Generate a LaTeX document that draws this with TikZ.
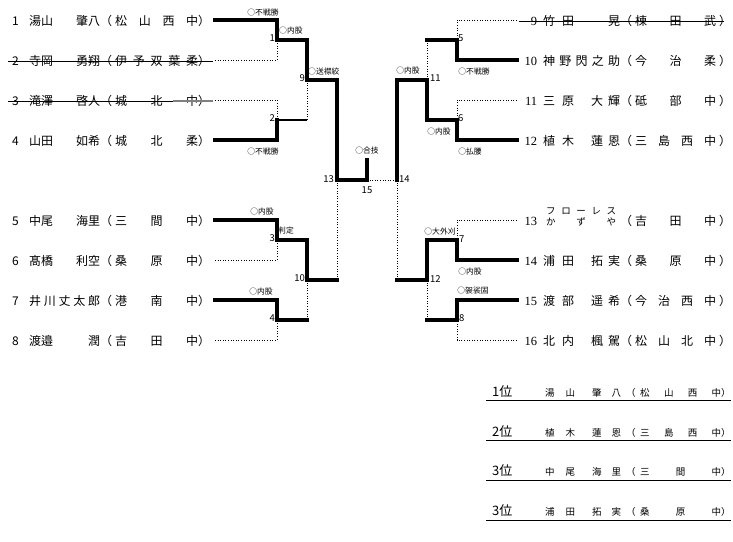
\documentclass[tikz,border=0pt]{standalone}
\usepackage{fontspec}
\setmainfont{Noto Sans CJK JP}
\newfontfamily\serifnum{Liberation Serif}
\newcommand{\psz}{\fontsize{12}{12}\selectfont}
\newcommand{\tsz}{\fontsize{7.8}{8}\selectfont}
\newcommand{\msz}{\fontsize{9.5}{10}\selectfont}
\newcommand{\rsz}{\fontsize{9.5}{10}\selectfont}
\newcommand{\Lrow}[3]{\makebox[17pt][l]{#1}\makebox[71pt][s]{#2}\makebox[15pt][l]{（}\makebox[83pt][s]{#3}\makebox[12pt][l]{）}}
\newcommand{\Rrow}[3]{\makebox[17pt][r]{\serifnum\fontsize{12.5}{12}\selectfont #1}\hspace{6pt}\makebox[77pt][s]{#2}\makebox[15pt][l]{（}\makebox[81pt][s]{#3}\hspace{3pt}\makebox[8pt][l]{）}}
\newcommand{\Res}[3]{\makebox[53pt][l]{\fontsize{13}{13}\selectfont #1}\makebox[76pt][s]{#2}\hspace{5pt}\makebox[14pt][l]{（}\makebox[81pt][s]{#3}\makebox[9pt][l]{）}}
\tikzset{
  win/.style={line width=3.6pt, line join=miter, line cap=rect},
  lose/.style={line width=0.8pt, dash pattern=on 1pt off 1.6pt},
  mid/.style={line width=1.8pt},
  strike/.style={line width=0.9pt},
  row/.style={anchor=west, inner sep=0pt, font=\psz},
  tech/.style={inner sep=0pt, font=\tsz},
  mnum/.style={inner sep=0pt, font=\msz},
  kana/.style={anchor=west, inner sep=0pt, font=\fontsize{9.5}{10}\selectfont},
  resrow/.style={anchor=west, inner sep=0pt, font=\rsz},
  uline/.style={line width=1pt}
}
\begin{document}
\begin{tikzpicture}[x=1pt,y=-1pt]
\useasboundingbox (0,0) rectangle (733,541);
% ---------- player rows (left)
\node[row] (t1) at (12,21) {\Lrow{1}{湯山\hfill 肇八}{松\hfill 山\hfill 西\hfill 中}};
\node[row] (t2) at (12,61) {\Lrow{2}{寺岡\hfill 勇翔}{伊\hfill 予\hfill 双\hfill 葉\hfill 柔}};
\node[row] (t3) at (12,101) {\Lrow{3}{滝澤\hfill 啓人}{城\hfill 北\hfill 中}};
\node[row] (t4) at (12,141) {\Lrow{4}{山田\hfill 如希}{城\hfill 北\hfill 柔}};
\node[row] (t5) at (12,221) {\Lrow{5}{中尾\hfill 海里}{三\hfill 間\hfill 中}};
\node[row] (t6) at (12,261) {\Lrow{6}{髙橋\hfill 利空}{桑\hfill 原\hfill 中}};
\node[row] (t7) at (12,301) {\Lrow{7}{井\hfill 川\hfill 丈\hfill 太\hfill 郎}{港\hfill 南\hfill 中}};
\node[row] (t8) at (12,341) {\Lrow{8}{渡邉\hfill 潤}{吉\hfill 田\hfill 中}};
% ---------- player rows (right)
\node[row] (t9) at (520,21) {\Rrow{9}{竹\hspace{7pt}田\hfill 晃}{棟\hfill 田\hfill 武}};
\node[row] (t10) at (520,61) {\Rrow{10}{神\hfill 野\hfill 閃\hfill 之\hfill 助}{今\hfill 治\hfill 柔}};
\node[row] (t11) at (520,101) {\Rrow{11}{三\hspace{7pt}原\hfill 大\hspace{5pt}輝}{砥\hfill 部\hfill 中}};
\node[row] (t12) at (520,141) {\Rrow{12}{植\hspace{7pt}木\hfill 蓮\hspace{5pt}恩}{三\hfill 島\hfill 西\hfill 中}};
\node[row] (t13) at (520,221) {\Rrow{13}{\hfill}{吉\hfill 田\hfill 中}};
\node[kana] (k13a) at (546,211) {\makebox[70pt][s]{フ\hfill ロ\hfill ー\hfill レ\hfill ス}};
\node[kana] (k13b) at (546,222) {\makebox[70pt][s]{か\hfill\phantom{ロ}\hfill ず\hfill\phantom{レ}\hfill や}};
\node[row] (t14) at (520,261) {\Rrow{14}{浦\hspace{7pt}田\hfill 拓\hspace{5pt}実}{桑\hfill 原\hfill 中}};
\node[row] (t15) at (520,301) {\Rrow{15}{渡\hspace{7pt}部\hfill 遥\hspace{5pt}希}{今\hfill 治\hfill 西\hfill 中}};
\node[row] (t16) at (520,341) {\Rrow{16}{北\hspace{7pt}内\hfill 楓\hspace{5pt}駕}{松\hfill 山\hfill 北\hfill 中}};
% ---------- strike-throughs
\draw[strike] ([xshift=-4pt]t2.west) -- ([xshift=3pt]t2.east);
\draw[strike] ([xshift=-4pt]t3.west) -- ([xshift=3pt]t3.east);
\draw[strike, gray, line width=1.6pt] ([xshift=-37pt]t3.east) -- ([xshift=3pt]t3.east);
\draw[strike] ([xshift=-1pt]t9.west) -- ([xshift=-3pt]t9.east);
% ---------- bracket coordinates
\coordinate (L1) at (215,20);  \coordinate (L2) at (215,60);
\coordinate (L3) at (215,100); \coordinate (L4) at (215,140);
\coordinate (L5) at (215,220); \coordinate (L6) at (215,260);
\coordinate (L7) at (215,300); \coordinate (L8) at (215,340);
\coordinate (M1) at (277,40);  \coordinate (M2) at (277,120);
\coordinate (M3) at (277,240); \coordinate (M4) at (277,320);
\coordinate (M9) at (307,80);  \coordinate (M10) at (307,280);
\coordinate (M13) at (337,180);
\coordinate (F) at (367,180);  \coordinate (W) at (367,160);
\coordinate (R9) at (517,20);   \coordinate (R10) at (517,60);
\coordinate (R11) at (517,100); \coordinate (R12) at (517,140);
\coordinate (R13) at (517,220); \coordinate (R14) at (517,260);
\coordinate (R15) at (517,300); \coordinate (R16) at (517,340);
\coordinate (N5) at (457,40);  \coordinate (N6) at (457,120);
\coordinate (N7) at (457,240); \coordinate (N8) at (457,320);
\coordinate (N11) at (427,80); \coordinate (N12) at (427,280);
\coordinate (M14) at (397,180);
% ---------- left bracket
\draw[win] (L1) -| (M1) -| (M9) -| (M13) -| (W);
\draw[lose] (L2) -| (M1);
\draw[win] (L4) -| (M2);
\draw[lose] (L3) -| (M2);
\draw[mid] (M2) -- (M2 -| M9);
\draw[lose] (M2 -| M9) -- (M9);
\draw[win] (L5) -| (M3) -| (M10) -- (M10 -| M13);
\draw[lose] (L6) -| (M3);
\draw[win] (L7) -| (M4) -- (M4 -| M10);
\draw[lose] (L8) -| (M4);
\draw[lose] (M4 -| M10) -- (M10);
\draw[lose] (M10 -| M13) -- (M13);
\draw[lose] (F) -- (M14);
% ---------- right bracket
\draw[win] (R10) -| (N5) -- (N5 -| N11);
\draw[lose] (R9) -| (N5);
\draw[lose] (N5 -| N11) -- (N11);
\draw[win] (R12) -| (N6) -| (N11) -| (M14);
\draw[lose] (R11) -| (N6);
\draw[win] (R14) -| (N7) -| (N12) -- (N12 -| M14);
\draw[lose] (R13) -| (N7);
\draw[win] (R15) -| (N8) -- (N8 -| N12);
\draw[lose] (R16) -| (N8);
\draw[lose] (N8 -| N12) -- (N12);
\draw[lose] (M14) -- (N12 -| M14);
% ---------- match numbers
\node[mnum, anchor=east] (n1) at (275,38) {1};
\node[mnum, anchor=east] (n2) at (275,118) {2};
\node[mnum, anchor=east] (n3) at (275,238) {3};
\node[mnum, anchor=east] (n4) at (275,318) {4};
\node[mnum, anchor=east] (n9) at (305,78) {9};
\node[mnum, anchor=east] (n10) at (305,278) {10};
\node[mnum, anchor=east] (n13) at (334,179) {13};
\node[mnum] (n15) at (367,190) {15};
\node[mnum, anchor=west] (n5) at (458,38) {5};
\node[mnum, anchor=west] (n6) at (458,118) {6};
\node[mnum, anchor=west] (n7) at (459,239) {7};
\node[mnum, anchor=west] (n8) at (459,318) {8};
\node[mnum, anchor=west] (n11) at (430,78) {11};
\node[mnum, anchor=west] (n12) at (430,279) {12};
\node[mnum, anchor=west] (n14) at (399,179) {14};
% ---------- technique labels
\node[tech] (w1a) at (263,13) {○不戦勝};
\node[tech, anchor=west] (w1b) at (279,31) {○内股};
\node[tech] (w2) at (263,152) {○不戦勝};
\node[tech, anchor=west] (w9) at (308,72) {○送襟絞};
\node[tech] (w15) at (367,151) {○合技};
\node[tech] (w3a) at (262,212) {○内股};
\node[tech, anchor=west] (w3b) at (278,231) {判定};
\node[tech] (w4) at (261,292) {○内股};
\node[tech] (w5) at (474,72) {○不戦勝};
\node[tech] (w11) at (408,71) {○内股};
\node[tech] (w6a) at (439,132) {○内股};
\node[tech] (w6b) at (470,152) {○払腰};
\node[tech] (w12) at (440,232) {○大外刈};
\node[tech] (w7) at (470,272) {○内股};
\node[tech] (w8) at (473,291) {○袈裟固};
% ---------- results
\node[resrow] (r1) at (492,392) {\Res{1位}{湯\hspace{11pt}山\hfill 肇\hspace{10pt}八}{松\hfill 山\hfill 西\hfill 中}};
\node[resrow] (r2) at (492,432) {\Res{2位}{植\hspace{11pt}木\hfill 蓮\hspace{10pt}恩}{三\hfill 島\hfill 西\hfill 中}};
\node[resrow] (r3) at (492,471) {\Res{3位}{中\hspace{11pt}尾\hfill 海\hspace{10pt}里}{三\hfill 間\hfill 中}};
\node[resrow] (r4) at (492,511) {\Res{3位}{浦\hspace{11pt}田\hfill 拓\hspace{10pt}実}{桑\hfill 原\hfill 中}};
\coordinate (u1a) at (486,400); \coordinate (u1b) at (731,400);
\coordinate (u2a) at (486,440); \coordinate (u2b) at (731,440);
\coordinate (u3a) at (486,480); \coordinate (u3b) at (731,480);
\coordinate (u4a) at (486,520); \coordinate (u4b) at (731,520);
\draw[uline] (u1a) -- (u1b);
\draw[uline] (u2a) -- (u2b);
\draw[uline] (u3a) -- (u3b);
\draw[uline] (u4a) -- (u4b);
\end{tikzpicture}
\end{document}
